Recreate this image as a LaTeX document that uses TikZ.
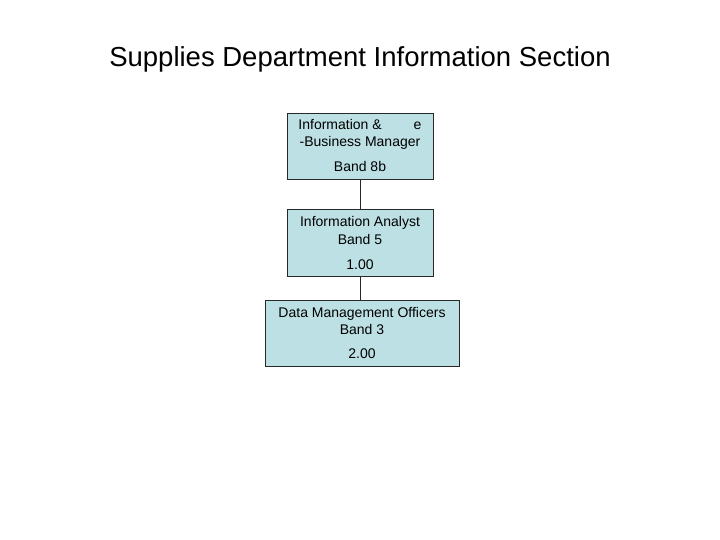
\documentclass[tikz,border=0pt]{standalone}
\usepackage{fontspec}
\setmainfont{Liberation Sans}
\definecolor{boxfill}{RGB}{189,224,229}
\definecolor{boxline}{RGB}{40,40,40}
\begin{document}
\begin{tikzpicture}[x=1pt,y=-1pt,
  orgbox/.style={draw=boxline,line width=0.8pt,fill=boxfill,rectangle,inner sep=0pt},
  boxtext/.style={font=\fontsize{14}{17}\selectfont,align=center,anchor=base,inner sep=0pt},
  link/.style={draw=boxline,line width=0.8pt}]
\useasboundingbox (0,0) rectangle (720,540);
\node[font=\fontsize{27.5}{32}\selectfont,anchor=base,inner sep=0pt] (title) at (360,67) {Supplies Department Information Section};
% boxes
\node[orgbox,minimum width=146pt,minimum height=66pt] (b1) at (360,146) {};
\node[orgbox,minimum width=146pt,minimum height=67pt] (b2) at (360,242.5) {};
\node[orgbox,minimum width=194pt,minimum height=66pt] (b3) at (362,333) {};
\draw[link] (b1.south) -- (b2.north);
\draw[link] (b2.south) -- (b3.north -| b2.south);
% texts
\node[boxtext] (t1a) at (360,130) {Information \&\hspace{32pt}e};
\node[boxtext] (t1b) at (360,147) {-Business Manager};
\node[boxtext] (t1c) at (360,172) {Band 8b};
\node[boxtext] (t2a) at (360,226) {Information Analyst};
\node[boxtext] (t2b) at (360,244) {Band 5};
\node[boxtext] (t2c) at (360,269) {1.00};
\node[boxtext] (t3a) at (362,317) {Data Management Officers};
\node[boxtext] (t3b) at (362,334) {Band 3};
\node[boxtext] (t3c) at (362,358) {2.00};
\end{tikzpicture}
\end{document}
